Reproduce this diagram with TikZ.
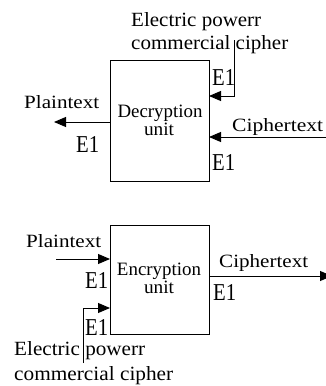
\documentclass[tikz,border=0pt]{standalone}
\usepackage{fontspec}
\usepackage{graphicx}
\setmainfont{Liberation Serif}
\usetikzlibrary{arrows.meta}
\newcommand\fitt[3]{\resizebox{#1pt}{#2pt}{#3}}
\begin{document}
\begin{tikzpicture}[x=1pt,y=-1pt,
  box/.style={draw,line width=0.9pt,inner sep=0pt},
  arr/.style={line width=0.9pt,-{Triangle[length=12pt,width=10pt]}},
  lbl/.style={inner sep=0pt,anchor=base west},
  unitlbl/.style={inner sep=0pt,anchor=base}]
\useasboundingbox (0,0) rectangle (326,386);
% decryption part
\node[box,minimum width=99pt,minimum height=121pt] (dec) at (159.5,120.5) {};
\node[unitlbl] (dect1) at (160,117) {\fitt{85}{12.5}{Decryption}};
\node[unitlbl] (dect2) at (159,135) {\fitt{30}{12.5}{unit}};
\node[lbl] (el1) at (131,26) {\fitt{130}{14}{Electric powerr}};
\node[lbl] (el2) at (131,49) {\fitt{157}{14}{commercial cipher}};
\node[lbl] (e1a) at (212,85) {\fitt{23}{16}{E1}};
\node[lbl] (ct1) at (232,131) {\fitt{91}{13}{Ciphertext}};
\node[lbl] (e1b) at (212,170) {\fitt{23}{16}{E1}};
\node[lbl] (pt1) at (24,108) {\fitt{75}{13}{Plaintext}};
\node[lbl] (e1c) at (76,152) {\fitt{23}{16}{E1}};
\coordinate (a1) at (234,40);
\coordinate (a2) at (209,96);
\coordinate (a3) at (330,137);
\coordinate (a4) at (209,137);
\coordinate (a5) at (110,122);
\coordinate (a6) at (54,122);
\draw[arr] (a1) |- (a2);
\draw[arr] (a3) -- (a4);
\draw[arr] (a5) -- (a6);
% encryption part
\node[box,minimum width=99pt,minimum height=109pt] (enc) at (159.5,279.5) {};
\node[unitlbl] (enct1) at (159,275) {\fitt{84}{12.5}{Encryption}};
\node[unitlbl] (enct2) at (159,293) {\fitt{30}{12.5}{unit}};
\node[lbl] (pt2) at (26,247) {\fitt{75}{13}{Plaintext}};
\node[lbl] (e1d) at (85,288) {\fitt{23}{16}{E1}};
\node[lbl] (e1e) at (85,335) {\fitt{23}{16}{E1}};
\node[lbl] (el3) at (14,355) {\fitt{131}{14}{Electric powerr}};
\node[lbl] (el4) at (14,380) {\fitt{159}{14}{commercial cipher}};
\node[lbl] (ct2) at (219,267) {\fitt{89}{13}{Ciphertext}};
\node[lbl] (e1f) at (213,300) {\fitt{23}{16}{E1}};
\coordinate (b1) at (56,259);
\coordinate (b2) at (110,259);
\coordinate (b3) at (83,363);
\coordinate (b4) at (110,308);
\coordinate (b5) at (209,276);
\coordinate (b6) at (332,276);
\draw[arr] (b1) -- (b2);
\draw[arr] (b3) |- (b4);
\draw[arr] (b5) -- (b6);
\end{tikzpicture}
\end{document}
